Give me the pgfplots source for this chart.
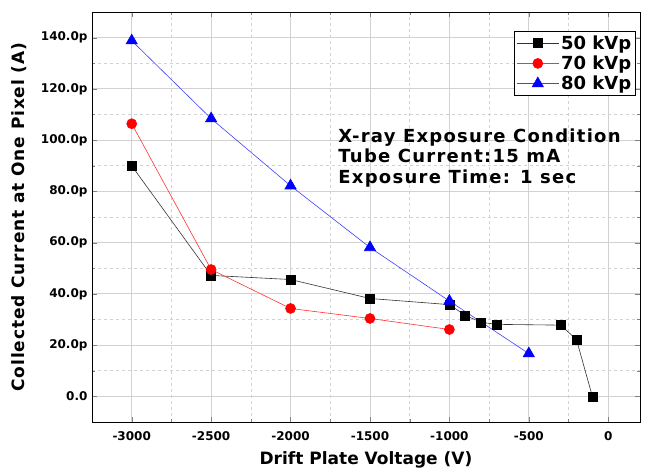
\documentclass[border=0pt]{standalone}
\usepackage{pgfplots}
\pgfplotsset{compat=1.18}
\usepackage{fontspec}
\setmainfont{DejaVu Sans}
\usetikzlibrary{calc}
\begin{document}
\begin{tikzpicture}
\begin{axis}[
  name=ax,
  scale only axis, width=548pt, height=410pt,
  xmin=-3250, xmax=200, ymin=-10, ymax=150,
  xtick={-3000,-2500,-2000,-1500,-1000,-500,0},
  ytick={0,20,40,60,80,100,120,140},
  yticklabels={0.0,20.0p,40.0p,60.0p,80.0p,100.0p,120.0p,140.0p},
  minor tick num=1,
  tick align=inside,
  major tick length=5pt, minor tick length=3pt,
  /pgf/number format/assume math mode=true,
  /pgf/number format/1000 sep={},
  ticklabel style={font=\bfseries\fontsize{12}{14}\selectfont},
  xticklabel style={yshift=-6pt},
  yticklabel style={xshift=-1pt},
  grid=both,
  major grid style={gray!35, line width=0.8pt},
  minor grid style={gray!35, dashed, line width=0.6pt},
  axis line style={line width=0.8pt},
  xlabel={Drift Plate Voltage (V)},
  ylabel={Collected Current at One Pixel (A)},
  label style={font=\bfseries\fontsize{17}{19}\selectfont},
  xlabel style={yshift=-4pt},
  ylabel style={yshift=7pt, font=\bfseries\fontsize{17}{19}\selectfont\addfontfeatures{LetterSpace=5}},
  legend style={at={(0.992,0.953)}, anchor=north east, draw=black, line width=0.8pt,
    font=\bfseries\fontsize{18}{20}\selectfont, row sep=1pt, inner sep=2pt},
  legend cell align=left,
  legend image code/.code={\draw[mark repeat=2,mark phase=2] plot coordinates {(0pt,0pt) (21pt,0pt) (42pt,0pt)};},
]
\addplot[color=black!80, line width=0.6pt, mark=square*, mark size=4.5pt, mark options={black, solid}] coordinates {
(-3000,90) (-2500,47.2) (-2000,45.6) (-1500,38.2) (-1000,35.8) (-900,31.6) (-800,28.9) (-700,28.1) (-300,27.8) (-200,22.2) (-100,0)
};
\addlegendentry{50 kVp}
\addplot[color=red!80, line width=0.6pt, mark=*, mark size=5pt, mark options={red, solid}] coordinates {
(-3000,106.4) (-2500,49.5) (-2000,34.3) (-1500,30.4) (-1000,26.1)
};
\addlegendentry{70 kVp}
\addplot[color=blue!75, line width=0.6pt, mark=triangle*, mark size=6.5pt, mark options={blue, solid}] coordinates {
(-3000,138.8) (-2500,108.4) (-2000,82.2) (-1500,58.1) (-1000,37.2) (-500,16.7)
};
\addlegendentry{80 kVp}
\node[anchor=north west, align=left, font=\bfseries\fontsize{18}{20.5}\selectfont\addfontfeatures{LetterSpace=7}, inner sep=0pt] at (axis cs:-1700,104.5) {X-ray Exposure Condition\\Tube Current:15 mA\\Exposure Time: 1 sec};
\end{axis}
\pgfresetboundingbox
\path[use as bounding box] ($(ax.south west)+(-92pt,-48pt)$) rectangle ($(ax.north east)+(6pt,12pt)$);
\end{tikzpicture}
\end{document}
